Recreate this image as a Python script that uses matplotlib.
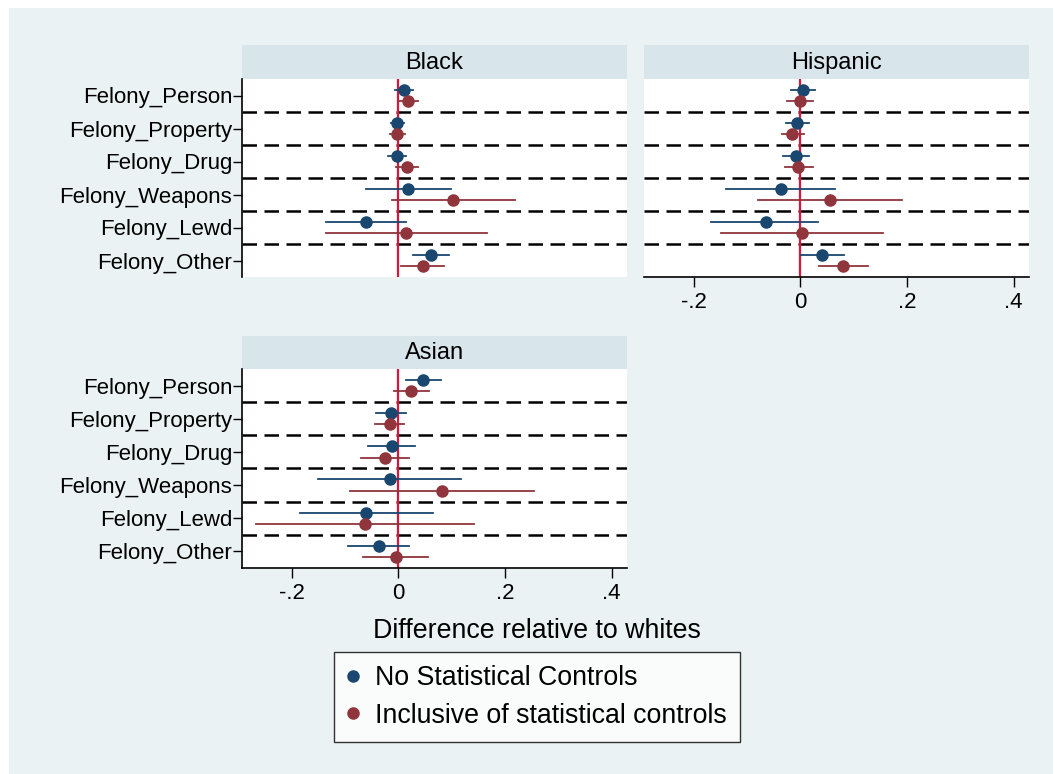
import matplotlib.pyplot as plt
from matplotlib.lines import Line2D
from matplotlib.patches import Rectangle

plt.rcParams['font.family'] = ['Liberation Sans', 'DejaVu Sans']

categories = ["Felony_Person", "Felony_Property", "Felony_Drug",
              "Felony_Weapons", "Felony_Lewd", "Felony_Other"]
seriesLabels = ["No Statistical Controls", "Inclusive of statistical controls"]
xTicks = [-0.2, 0, 0.2, 0.4]
xTickLabels = ["-.2", "0", ".2", ".4"]

# point estimate, lower bound, upper bound per category
black_nc = [0.010, -0.003, -0.003, 0.019, -0.061, 0.061]
black_nc_lo = [-0.006, -0.013, -0.020, -0.060, -0.136, 0.027]
black_nc_hi = [0.027, 0.011, 0.015, 0.099, 0.014, 0.095]
black_c = [0.018, -0.003, 0.016, 0.102, 0.014, 0.046]
black_c_lo = [0.002, -0.016, -0.005, -0.012, -0.135, 0.006]
black_c_hi = [0.037, 0.012, 0.037, 0.219, 0.166, 0.086]

hisp_nc = [0.006, -0.006, -0.008, -0.037, -0.065, 0.041]
hisp_nc_lo = [-0.017, -0.027, -0.033, -0.140, -0.167, 0.002]
hisp_nc_hi = [0.028, 0.016, 0.017, 0.066, 0.034, 0.082]
hisp_c = [0.000, -0.015, -0.004, 0.055, 0.004, 0.081]
hisp_c_lo = [-0.024, -0.035, -0.028, -0.080, -0.149, 0.036]
hisp_c_hi = [0.024, 0.007, 0.023, 0.191, 0.156, 0.127]

asian_nc = [0.046, -0.014, -0.012, -0.016, -0.060, -0.036]
asian_nc_lo = [0.015, -0.041, -0.056, -0.150, -0.185, -0.094]
asian_nc_hi = [0.080, 0.014, 0.032, 0.118, 0.066, 0.021]
asian_c = [0.023, -0.016, -0.025, 0.082, -0.063, -0.004]
asian_c_lo = [-0.008, -0.043, -0.070, -0.090, -0.266, -0.066]
asian_c_hi = [0.057, 0.011, 0.021, 0.254, 0.142, 0.055]

navy = '#1a476f'
maroon = '#90353b'
bgColor = '#eaf2f3'
barColor = '#d8e5eb'
zeroColor = '#dc143c'

W, H = 1053, 774


# pixel box (left, top, right, bottom) -> figure fraction rect
def pxRect(x0, y0, x1, y1):
    return [x0 / W, 1 - y1 / H, (x1 - x0) / W, (y1 - y0) / H]


def drawPanel(fig, box, title, est, showY, showX):
    x0, y0, x1, y1 = box
    # title strip above the panel
    bar = fig.add_axes(pxRect(x0, y0 - 34 if title != "Asian" else y0 - 33, x1, y0))
    bar.set_facecolor(barColor)
    bar.set_xticks([])
    bar.set_yticks([])
    for s in bar.spines.values():
        s.set_visible(False)
    bar.text(0.5, 0.48, title, ha='center', va='center', fontsize=17,
             transform=bar.transAxes)

    ax = fig.add_axes(pxRect(*box))
    ax.set_facecolor('white')
    ax.set_xlim(-0.293, 0.429)
    ax.set_ylim(5.5, -0.5)

    nc, ncLo, ncHi, c, cLo, cHi = est
    pos = list(range(len(categories)))
    for i in pos[:-1]:
        ax.axhline(i + 0.5, color='black', lw=1.8, linestyle=(0, (5.8, 3.0)), zorder=1)
    ax.axvline(0, color=zeroColor, lw=1.6, zorder=2)

    off = 0.17
    for i in pos:
        ax.plot([ncLo[i], ncHi[i]], [i - off, i - off], color=navy, lw=1.3, zorder=3)
        ax.plot([cLo[i], cHi[i]], [i + off, i + off], color=maroon, lw=1.3, zorder=3)
    ax.plot(nc, [p - off for p in pos], 'o', color=navy, ms=8, zorder=4)
    ax.plot(c, [p + off for p in pos], 'o', color=maroon, ms=8, zorder=4)

    ax.spines['top'].set_visible(False)
    ax.spines['right'].set_visible(False)
    ax.spines['left'].set_visible(showY)
    ax.spines['bottom'].set_visible(showX)
    ax.spines['left'].set_linewidth(1.2)
    ax.spines['bottom'].set_linewidth(1.2)

    if showY:
        ax.set_yticks(pos)
        ax.set_yticklabels(categories, fontsize=16)
        ax.tick_params(axis='y', length=6.5, width=1, pad=0.5)
    else:
        ax.set_yticks([])
    if showX:
        ax.set_xticks(xTicks)
        ax.set_xticklabels(xTickLabels, fontsize=16)
        ax.tick_params(axis='x', length=7, width=1, pad=4)
    else:
        ax.set_xticks([])
    return ax


fig = plt.figure(figsize=(W / 100, H / 100), dpi=100)
fig.patch.set_facecolor('white')
fig.add_artist(Rectangle((9 / W, 0), 1 - 9 / W, 1 - 8 / H, transform=fig.transFigure,
                         facecolor=bgColor, edgecolor='none', zorder=-10))

drawPanel(fig, (242, 79, 627, 277), "Black",
          (black_nc, black_nc_lo, black_nc_hi, black_c, black_c_lo, black_c_hi), True, False)
drawPanel(fig, (644, 79, 1029, 277), "Hispanic",
          (hisp_nc, hisp_nc_lo, hisp_nc_hi, hisp_c, hisp_c_lo, hisp_c_hi), False, True)
drawPanel(fig, (242, 369, 627, 568), "Asian",
          (asian_nc, asian_nc_lo, asian_nc_hi, asian_c, asian_c_lo, asian_c_hi), True, True)

fig.text(537 / W, 1 - 631 / H, "Difference relative to whites", ha='center', va='center',
         fontsize=19.3)

handles = [Line2D([], [], marker='o', linestyle='none', color=navy, ms=8),
           Line2D([], [], marker='o', linestyle='none', color=maroon, ms=8)]
leg = fig.legend(handles, seriesLabels, loc='center', bbox_to_anchor=(537 / W, 1 - 697 / H),
                 fontsize=19.3, frameon=True, fancybox=False, handlelength=0.4,
                 handletextpad=0.62, borderpad=0.5, labelspacing=0.42, borderaxespad=0)
leg.get_frame().set_edgecolor('black')
leg.get_frame().set_linewidth(1)
leg.get_frame().set_facecolor('white')

plt.savefig('out.png', dpi=100, facecolor=fig.get_facecolor())
